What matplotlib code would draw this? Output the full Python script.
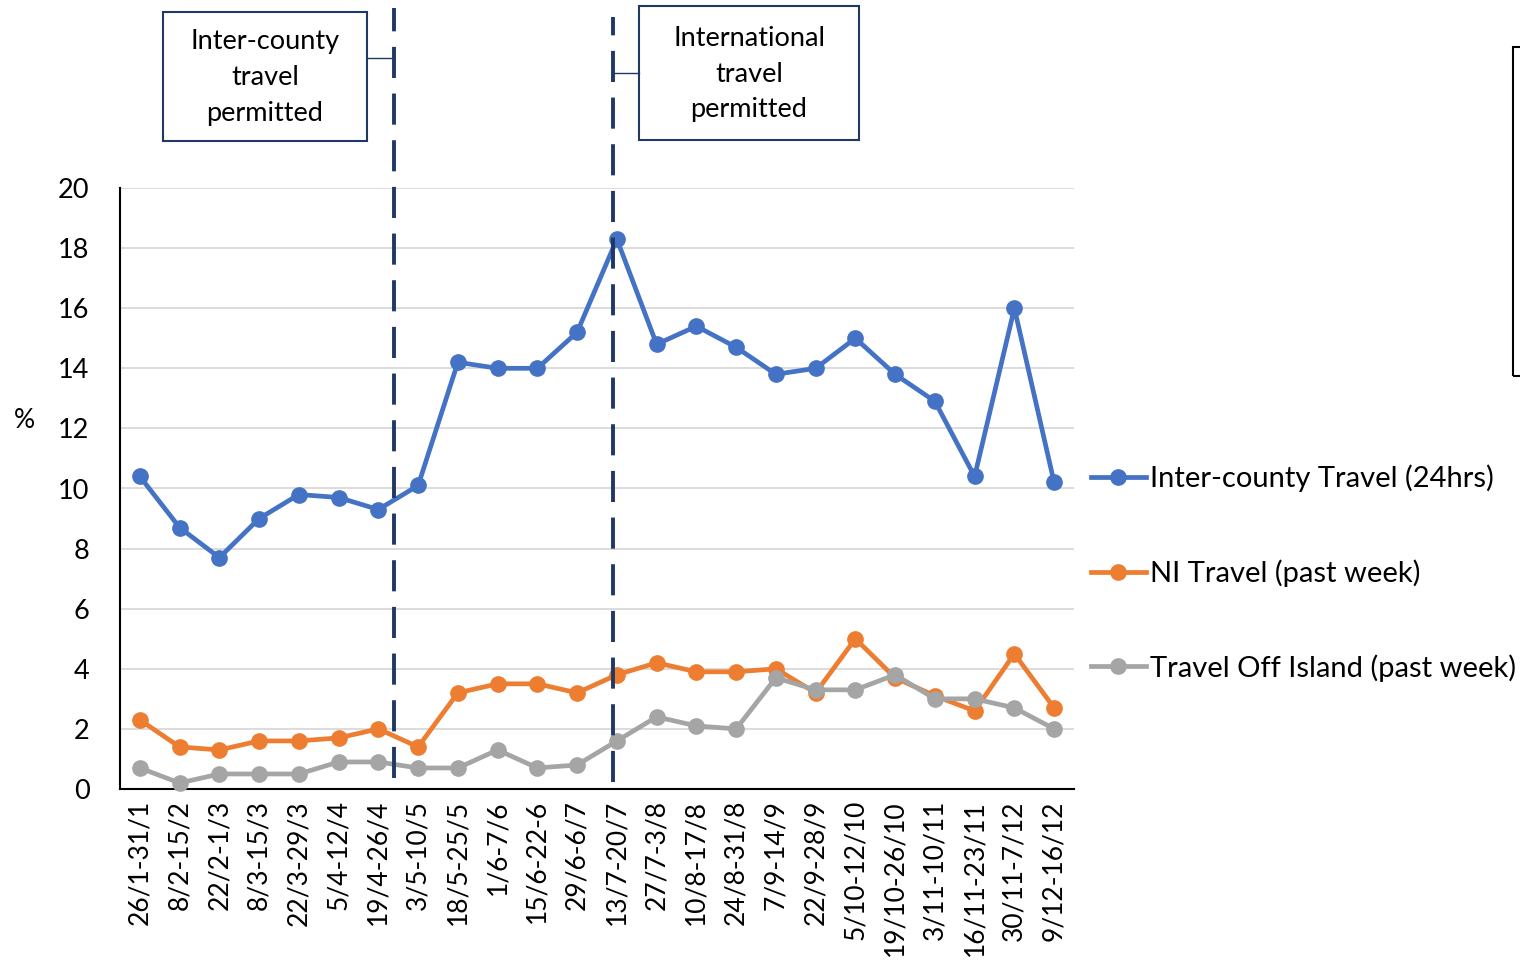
import matplotlib.pyplot as plt
from matplotlib.patches import Rectangle
from matplotlib.lines import Line2D

categories = ["26/1-31/1", "8/2-15/2", "22/2-1/3", "8/3-15/3", "22/3-29/3", "5/4-12/4",
              "19/4-26/4", "3/5-10/5", "18/5-25/5", "1/6-7/6", "15/6-22-6", "29/6-6/7",
              "13/7-20/7", "27/7-3/8", "10/8-17/8", "24/8-31/8", "7/9-14/9", "22/9-28/9",
              "5/10-12/10", "19/10-26/10", "3/11-10/11", "16/11-23/11", "30/11-7/12", "9/12-16/12"]
inter_county = [10.4, 8.7, 7.7, 9.0, 9.8, 9.7, 9.3, 10.1, 14.2, 14.0, 14.0, 15.2,
                18.3, 14.8, 15.4, 14.7, 13.8, 14.0, 15.0, 13.8, 12.9, 10.4, 16.0, 10.2]
ni_travel = [2.3, 1.4, 1.3, 1.6, 1.6, 1.7, 2.0, 1.4, 3.2, 3.5, 3.5, 3.2,
             3.8, 4.2, 3.9, 3.9, 4.0, 3.2, 5.0, 3.7, 3.1, 2.6, 4.5, 2.7]
off_island = [0.7, 0.2, 0.5, 0.5, 0.5, 0.9, 0.9, 0.7, 0.7, 1.3, 0.7, 0.8,
              1.6, 2.4, 2.1, 2.0, 3.7, 3.3, 3.3, 3.8, 3.0, 3.0, 2.7, 2.0]
series_names = ["Inter-county Travel (24hrs)", "NI Travel (past week)", "Travel Off Island (past week)"]
colors = ["#4472C4", "#ED7D31", "#A5A5A5"]
event_positions = [6.385, 11.89]
event_labels = ["Inter-county\ntravel\npermitted", "International\ntravel\npermitted"]

plt.rcParams['font.family'] = ['Lato', 'DejaVu Sans']

fig = plt.figure(figsize=(15.2, 9.63), dpi=100)
ax = fig.add_axes([120/1520, 174/963, (1074-120)/1520, (789-188)/963])

x = list(range(len(categories)))
for vals, c, name in zip([inter_county, ni_travel, off_island], colors, series_names):
    ax.plot(x, vals, color=c, lw=3.4, marker='o', ms=11, label=name, zorder=3, clip_on=False)

ax.set_xlim(-0.5, len(categories) - 0.5)
ax.set_ylim(0, 20)
ax.set_yticks(range(0, 21, 2))
ax.set_xticks(x)
ax.set_xticklabels(categories, rotation=90, fontsize=19)
ax.tick_params(axis='y', labelsize=19.5, length=0, pad=22)
ax.tick_params(axis='x', length=0, pad=8)
ax.grid(axis='y', color='#D9D9D9', lw=1.3, zorder=0)
for s in ['top', 'right']:
    ax.spines[s].set_visible(False)
ax.spines['left'].set_color('black')
ax.spines['left'].set_linewidth(1.5)
ax.spines['bottom'].set_color('black')
ax.spines['bottom'].set_linewidth(1.5)
ax.set_axisbelow(True)

fig.text(24/1520, 1 - 420/963, "%", fontsize=19, ha='center', va='center')

# event dashed lines
for xp, ylo, yhi in zip(event_positions, [0.018, 0.012], [1.30, 1.285]):
    ax.axvline(xp, ymin=ylo, ymax=yhi, color='#1F3864', lw=2.8, ls=(0, (8, 4)), clip_on=False, zorder=4)

# annotation boxes (figure pixel coords)
def fx(px):
    return px / 1520
def fy(py):
    return 1 - py / 963

boxes = [(163, 12, 367, 141, 58, 394), (639, 6, 859, 140, 73, 613)]
for (x0, y0, x1, y1, cy, lx), txt in zip(boxes, event_labels):
    fig.patches.append(Rectangle((fx(x0), fy(y1)), fx(x1) - fx(x0), fy(y0) - fy(y1),
                                 transform=fig.transFigure, fill=False, ec='#1F3864', lw=1.5))
    fig.text(fx((x0 + x1) / 2), fy((y0 + y1) / 2 + 1), txt, ha='center', va='center',
             fontsize=19.5, linespacing=1.55)
    if lx > x1:
        fig.lines.append(Line2D([fx(x1), fx(lx)], [fy(cy), fy(cy)], transform=fig.transFigure,
                                color='#1F3864', lw=1))
    else:
        fig.lines.append(Line2D([fx(lx), fx(x0)], [fy(cy), fy(cy)], transform=fig.transFigure,
                                color='#1F3864', lw=1))

# partial box at the right edge
fig.patches.append(Rectangle((fx(1513), fy(376)), fx(1600) - fx(1513), fy(47) - fy(376),
                             transform=fig.transFigure, fill=False, ec='black', lw=1.5, clip_on=False))

# legend
handles = [Line2D([0], [0], color=c, lw=3.4, marker='o', ms=11) for c in colors]
fig.legend(handles, series_names, loc='upper left', bbox_to_anchor=(fx(1079), fy(453)),
           frameon=False, fontsize=21, handlelength=1.9, handletextpad=0.12, labelspacing=2.3,
           borderaxespad=0)

fig.savefig("out.png", dpi=100)
